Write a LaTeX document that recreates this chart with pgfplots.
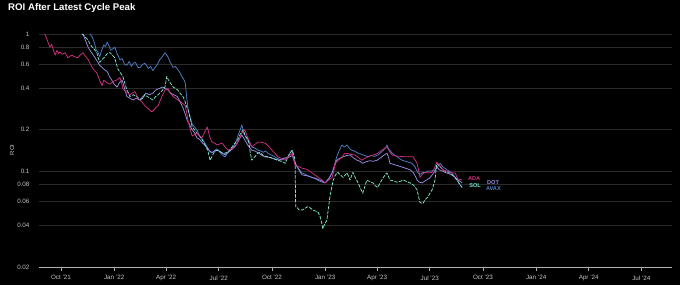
\documentclass[border=0pt]{standalone}
\usepackage{pgfplots}
\pgfplotsset{compat=1.18}
\usepackage{fontspec}
\setmainfont{Liberation Sans}
\definecolor{ada}{HTML}{D0307F}
\definecolor{sol}{HTML}{7EE6CF}
\definecolor{dot}{HTML}{9C8CE4}
\definecolor{avax}{HTML}{4F80C6}
\definecolor{gridgray}{HTML}{2A2A2A}
\definecolor{axisgray}{HTML}{B0B0B0}
\definecolor{labelgray}{HTML}{C4C4C4}
\begin{document}
\begin{tikzpicture}
\fill[black] (-39bp,-18bp) rectangle (641bp,267bp);
\path[use as bounding box] (-39bp,-18bp) rectangle (641bp,267bp);
\begin{axis}[
  scale only axis, width=633bp, height=236bp,
  xmin=-38, xmax=1057, ymode=log, ymin=0.02, ymax=1.05,
  axis x line*=bottom, axis y line*=left,
  y axis line style={draw=none},
  x axis line style={color=axisgray, line width=0.8pt},
  xtick={0,92,182,273,365,457,547,638,730,822,913,1004},
  xticklabels={Oct '21,Jan '22,Apr '22,Jul '22,Oct '22,Jan '23,Apr '23,Jul '23,Oct '23,Jan '24,Apr '24,Jul '24},
  xtick style={color=axisgray, line width=0.6pt},
  major tick length=4bp, tick align=outside,
  ytick={0.02,0.04,0.06,0.08,0.1,0.2,0.4,0.6,0.8,1},
  yticklabels={0.02,0.04,0.06,0.08,0.1,0.2,0.4,0.6,0.8,1},
  yminorticks=false, xminorticks=false,
  ytick style={draw=none},
  ymajorgrids, grid style={color=gridgray, line width=0.8pt},
  tick label style={font=\fontsize{6.3}{7}\selectfont, color=labelgray},
  yticklabel style={xshift=-2bp},
  xticklabel style={yshift=-1bp},
  clip=false,
  every axis plot/.append style={line width=0.75pt, line join=round},
]
% AVAX
\addplot[avax] coordinates {
(50,1.0)(54,0.95)(58,0.86)(61,0.76)(64,0.74)(67,0.68)(70,0.75)(74,0.83)(77,0.81)(80,0.87)(83,0.82)(86,0.76)(90,0.78)(93,0.80)(97,0.72)(102,0.65)(106,0.66)(110,0.60)(114,0.59)(118,0.63)(122,0.58)(125,0.61)(129,0.62)(133,0.57)(137,0.57)(141,0.60)(145,0.61)(148,0.59)(151,0.56)(155,0.58)(159,0.54)(163,0.57)(167,0.60)(171,0.65)(175,0.68)(178,0.71)(180,0.73)(183,0.70)(185,0.68)(189,0.62)(194,0.57)(198,0.58)(202,0.55)(206,0.52)(209,0.49)(212,0.47)(215,0.44)(217,0.36)(220,0.28)(223,0.25)(227,0.22)(231,0.21)(235,0.20)(240,0.18)(245,0.17)(249,0.16)(253,0.15)(257,0.14)(261,0.135)(265,0.14)(269,0.145)(272,0.142)(276,0.135)(280,0.13)(284,0.127)(288,0.135)(292,0.14)(298,0.15)(302,0.16)(306,0.18)(310,0.20)(313,0.217)(316,0.19)(318,0.183)(322,0.17)(326,0.16)(330,0.15)(334,0.148)(338,0.145)(341,0.142)(346,0.14)(350,0.137)(354,0.14)(358,0.135)(362,0.132)(366,0.13)(370,0.127)(374,0.124)(378,0.122)(382,0.12)(386,0.124)(390,0.125)(393,0.127)(396,0.135)(400,0.142)(402,0.125)(405,0.114)(408,0.108)(412,0.103)(417,0.097)(422,0.095)(428,0.092)(434,0.09)(440,0.088)(446,0.085)(452,0.083)(457,0.082)(461,0.086)(465,0.09)(469,0.097)(473,0.11)(477,0.127)(481,0.14)(486,0.155)(490,0.15)(495,0.155)(499,0.146)(503,0.142)(508,0.14)(514,0.135)(519,0.133)(525,0.13)(531,0.127)(536,0.13)(542,0.128)(548,0.131)(553,0.136)(558,0.142)(562,0.15)(564,0.155)(567,0.145)(570,0.14)(573,0.135)(578,0.13)(584,0.125)(590,0.12)(596,0.118)(602,0.116)(607,0.114)(612,0.108)(615,0.102)(618,0.097)(622,0.095)(626,0.098)(630,0.097)(635,0.1)(641,0.1)(647,0.102)(652,0.108)(656,0.114)(660,0.108)(664,0.105)(668,0.102)(672,0.1)(676,0.097)(682,0.09)(686,0.085)(690,0.08)(694,0.076)
};
% DOT
\addplot[dot] coordinates {
(38,1.0)(41,0.93)(44,0.86)(47,0.8)(50,0.76)(54,0.72)(59,0.67)(63,0.63)(67,0.59)(71,0.57)(75,0.55)(80,0.53)(84,0.49)(88,0.46)(92,0.43)(97,0.41)(101,0.44)(106,0.46)(110,0.40)(114,0.35)(119,0.34)(125,0.33)(130,0.34)(136,0.33)(142,0.35)(147,0.37)(153,0.36)(159,0.37)(164,0.39)(170,0.40)(176,0.41)(180,0.40)(185,0.39)(190,0.37)(195,0.36)(201,0.35)(206,0.32)(211,0.29)(215,0.26)(218,0.236)(222,0.22)(227,0.20)(231,0.19)(235,0.175)(240,0.17)(245,0.16)(249,0.155)(253,0.148)(257,0.14)(261,0.137)(266,0.14)(272,0.142)(278,0.136)(284,0.131)(290,0.138)(294,0.142)(298,0.147)(303,0.155)(308,0.17)(313,0.183)(318,0.169)(323,0.155)(330,0.142)(336,0.14)(342,0.135)(348,0.13)(353,0.127)(360,0.126)(366,0.124)(372,0.122)(378,0.12)(384,0.124)(390,0.125)(396,0.127)(400,0.13)(403,0.12)(406,0.113)(410,0.105)(414,0.098)(417,0.094)(422,0.093)(428,0.092)(434,0.09)(439,0.089)(445,0.087)(451,0.085)(457,0.082)(463,0.088)(469,0.097)(473,0.108)(477,0.12)(482,0.124)(488,0.127)(494,0.13)(500,0.131)(506,0.125)(512,0.12)(517,0.118)(522,0.114)(528,0.117)(534,0.119)(540,0.118)(547,0.12)(553,0.125)(558,0.13)(564,0.135)(567,0.125)(569,0.114)(575,0.112)(581,0.11)(587,0.108)(593,0.106)(599,0.104)(604,0.102)(610,0.097)(614,0.09)(616,0.086)(620,0.083)(625,0.082)(630,0.085)(634,0.087)(638,0.089)(643,0.095)(647,0.1)(650,0.107)(655,0.102)(660,0.1)(664,0.098)(670,0.096)(676,0.094)(681,0.091)(687,0.086)(691,0.084)(694,0.082)
};
% SOL
\addplot[sol, dash pattern=on 3.5pt off 1.3pt] coordinates {
(36,1.0)(39,0.98)(42,0.95)(45,0.92)(47,0.9)(50,0.85)(54,0.8)(58,0.77)(62,0.73)(65,0.66)(67,0.62)(71,0.65)(76,0.68)(80,0.72)(85,0.73)(89,0.7)(93,0.67)(96,0.6)(99,0.55)(103,0.52)(107,0.49)(111,0.43)(114,0.39)(117,0.37)(119,0.35)(125,0.36)(131,0.35)(134,0.34)(137,0.33)(142,0.34)(145,0.36)(149,0.35)(154,0.34)(159,0.33)(164,0.35)(168,0.36)(171,0.37)(176,0.39)(180,0.41)(183,0.49)(186,0.46)(189,0.44)(194,0.41)(198,0.40)(202,0.39)(206,0.37)(211,0.35)(215,0.32)(218,0.29)(220,0.28)(223,0.25)(227,0.21)(231,0.2)(235,0.19)(240,0.18)(244,0.17)(249,0.155)(254,0.142)(256,0.13)(258,0.12)(262,0.13)(266,0.14)(270,0.142)(276,0.138)(280,0.135)(284,0.135)(290,0.14)(296,0.15)(301,0.16)(306,0.17)(310,0.185)(315,0.2)(318,0.185)(321,0.175)(324,0.17)(327,0.14)(330,0.12)(336,0.128)(340,0.135)(344,0.137)(350,0.13)(354,0.128)(358,0.127)(364,0.125)(370,0.122)(375,0.12)(380,0.118)(385,0.116)(388,0.114)(392,0.125)(396,0.135)(400,0.142)(403,0.13)(405,0.12)(406,0.055)(409,0.054)(412,0.052)(417,0.052)(421,0.053)(426,0.055)(431,0.054)(436,0.052)(441,0.051)(445,0.05)(448,0.047)(451,0.042)(453,0.038)(456,0.041)(460,0.044)(463,0.055)(465,0.064)(468,0.075)(471,0.086)(475,0.094)(479,0.098)(483,0.094)(488,0.09)(491,0.093)(495,0.097)(500,0.086)(505,0.098)(509,0.09)(514,0.082)(518,0.075)(522,0.069)(526,0.078)(529,0.086)(534,0.084)(540,0.082)(544,0.078)(548,0.076)(552,0.082)(557,0.089)(561,0.094)(564,0.097)(569,0.086)(575,0.085)(581,0.083)(586,0.084)(592,0.086)(598,0.084)(604,0.082)(610,0.079)(616,0.073)(619,0.064)(621,0.059)(626,0.058)(630,0.062)(635,0.065)(639,0.07)(642,0.073)(645,0.08)(647,0.086)(650,0.114)(654,0.11)(658,0.105)(661,0.102)(667,0.099)(673,0.097)(679,0.092)(685,0.086)(690,0.08)(694,0.076)
};
% ADA
\addplot[ada] coordinates {
(-28,1.0)(-25,0.93)(-22,0.86)(-19,0.8)(-16,0.84)(-13,0.76)(-10,0.7)(-7,0.76)(-4,0.72)(-2,0.74)(2,0.71)(7,0.73)(12,0.67)(16,0.69)(19,0.7)(24,0.68)(29,0.67)(33,0.7)(38,0.73)(42,0.69)(47,0.65)(51,0.6)(55,0.56)(58,0.54)(62,0.52)(66,0.47)(71,0.42)(74,0.46)(77,0.45)(80,0.44)(85,0.43)(90,0.45)(96,0.46)(102,0.48)(105,0.44)(107,0.40)(112,0.38)(116,0.37)(119,0.36)(123,0.37)(128,0.38)(132,0.35)(136,0.33)(140,0.32)(145,0.3)(149,0.29)(153,0.28)(157,0.27)(161,0.28)(164,0.29)(168,0.30)(172,0.33)(176,0.36)(180,0.39)(185,0.40)(189,0.37)(194,0.35)(198,0.34)(202,0.33)(207,0.32)(211,0.31)(215,0.30)(218,0.26)(220,0.23)(224,0.2)(227,0.18)(231,0.185)(235,0.19)(240,0.18)(244,0.175)(248,0.19)(253,0.21)(257,0.18)(261,0.163)(266,0.16)(270,0.155)(275,0.158)(279,0.16)(284,0.15)(289,0.142)(295,0.146)(301,0.15)(307,0.165)(313,0.19)(318,0.2)(322,0.18)(326,0.165)(330,0.15)(336,0.157)(341,0.163)(347,0.162)(353,0.16)(359,0.152)(365,0.142)(370,0.135)(375,0.127)(381,0.124)(388,0.12)(394,0.128)(400,0.135)(403,0.12)(405,0.11)(411,0.108)(417,0.105)(422,0.104)(427,0.102)(433,0.098)(439,0.094)(445,0.09)(452,0.086)(457,0.082)(463,0.086)(469,0.09)(472,0.1)(474,0.114)(480,0.12)(486,0.127)(491,0.135)(497,0.134)(503,0.132)(509,0.131)(515,0.125)(521,0.12)(526,0.124)(531,0.127)(537,0.13)(543,0.132)(548,0.135)(553,0.14)(558,0.145)(564,0.15)(568,0.14)(573,0.131)(580,0.129)(587,0.128)(594,0.127)(600,0.127)(605,0.127)(609,0.127)(613,0.12)(616,0.114)(619,0.1)(621,0.09)(625,0.095)(630,0.098)(636,0.097)(642,0.098)(646,0.105)(650,0.116)(655,0.11)(661,0.102)(667,0.1)(673,0.098)(678,0.097)(682,0.097)(687,0.086)(691,0.087)(694,0.086)
};
\node[anchor=west, text=ada, font=\fontsize{5.6}{6}\selectfont\bfseries, inner sep=0pt] at (axis cs:704,0.0875) {ADA};
\node[anchor=west, text=sol, font=\fontsize{5.6}{6}\selectfont\bfseries, inner sep=0pt] at (axis cs:706,0.079) {SOL};
\node[anchor=west, text=dot, font=\fontsize{5.6}{6}\selectfont\bfseries, inner sep=0pt] at (axis cs:737,0.082) {DOT};
\node[anchor=west, text=avax, font=\fontsize{5.6}{6}\selectfont\bfseries, inner sep=0pt] at (axis cs:735,0.074) {AVAX};
\end{axis}
\node[anchor=base west, text=white, font=\fontsize{9.7}{11}\selectfont\bfseries, inner sep=0pt] at (-31bp,256bp) {ROI After Latest Cycle Peak};
\node[rotate=90, text=labelgray, font=\fontsize{6}{7}\selectfont, inner sep=0pt] at (-27bp,117bp) {ROI};
\end{tikzpicture}
\end{document}
